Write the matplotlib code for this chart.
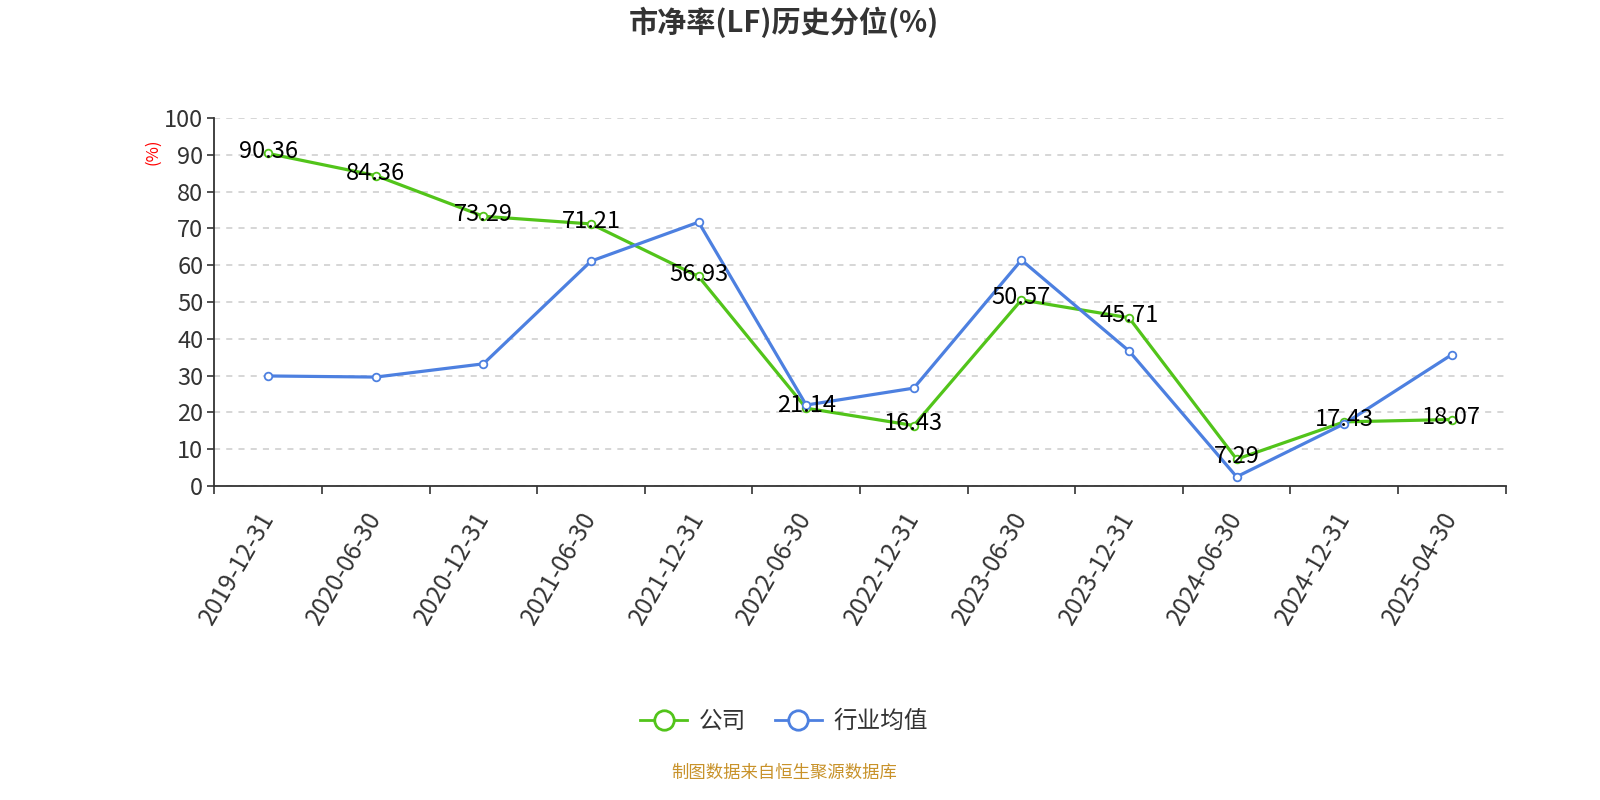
import matplotlib
matplotlib.use('Agg')
import matplotlib.pyplot as plt
from matplotlib.lines import Line2D

plt.rcParams['font.family'] = ['Noto Sans CJK SC', 'DejaVu Sans']

# Data
dates = ['2019-12-31', '2020-06-30', '2020-12-31', '2021-06-30', '2021-12-31', '2022-06-30',
         '2022-12-31', '2023-06-30', '2023-12-31', '2024-06-30', '2024-12-31', '2025-04-30']
company = [90.36, 84.36, 73.29, 71.21, 56.93, 21.14, 16.43, 50.57, 45.71, 7.29, 17.43, 18.07]
industry = [29.9, 29.6, 33.2, 61.1, 71.7, 22.0, 26.6, 61.4, 36.7, 2.5, 16.9, 35.7]

GREEN = '#52c41a'
BLUE = '#4d80e0'
TEXT = '#333333'

fig = plt.figure(figsize=(16, 8), dpi=100)
ax = fig.add_axes([0.134, 0.3925, 0.807, 0.46])

x = list(range(len(dates)))
ax.plot(x, company, '-o', color=GREEN, linewidth=2.3, markersize=5.5,
        markerfacecolor='white', markeredgecolor=GREEN, markeredgewidth=1.3, zorder=3)
ax.plot(x, industry, '-o', color=BLUE, linewidth=2.3, markersize=5.5,
        markerfacecolor='white', markeredgecolor=BLUE, markeredgewidth=1.3, zorder=4)

# data labels for company series
for i, v in enumerate(company):
    ax.text(i, v + 0.6, f'{v:.2f}', ha='center', va='center', fontsize=17, color='black', zorder=5)

ax.set_xlim(-0.5, len(dates) - 0.5)
ax.set_ylim(0, 100)
ax.set_yticks(range(0, 101, 10))
ax.tick_params(axis='y', labelsize=17, colors=TEXT, length=5, width=1.2, pad=3)

ax.set_xticks([i - 0.5 for i in range(len(dates) + 1)])
ax.set_xticklabels([])
ax.tick_params(axis='x', which='major', length=6, width=1.2, color=TEXT)
ax.set_xticks(x, minor=True)
ax.set_xticklabels(dates, minor=True, rotation=60, ha='right', va='center',
                   rotation_mode='anchor', fontsize=17.5, color=TEXT)
ax.tick_params(axis='x', which='minor', length=0, pad=20)

ax.grid(axis='y', linestyle=(0, (4, 4)), color='#cccccc', linewidth=1.1)
ax.set_axisbelow(True)
for s in ['top', 'right']:
    ax.spines[s].set_visible(False)
for s in ['left', 'bottom']:
    ax.spines[s].set_color(TEXT)
    ax.spines[s].set_linewidth(1.3)

ax.text(-0.048, 0.907, '(%)', transform=ax.transAxes, rotation=90, color='red',
        fontsize=12, ha='center', va='center')

fig.text(0.49, 0.972, '市净率(LF)历史分位(%)', ha='center', va='center',
         fontsize=21, fontweight='bold', color=TEXT)

handles = [
    Line2D([0], [0], color=GREEN, linewidth=2, marker='o', markersize=14,
           markerfacecolor='white', markeredgecolor=GREEN, markeredgewidth=2),
    Line2D([0], [0], color=BLUE, linewidth=2, marker='o', markersize=14,
           markerfacecolor='white', markeredgecolor=BLUE, markeredgewidth=2),
]
fig.legend(handles, ['公司', '行业均值'], loc='center', bbox_to_anchor=(0.49, 0.098),
           ncol=2, frameon=False, fontsize=17, labelcolor=TEXT, handlelength=2.0,
           columnspacing=1.2, handletextpad=0.5)

fig.text(0.49, 0.034, '制图数据来自恒生聚源数据库', ha='center', va='center',
         fontsize=12.5, color='#c8922a')

fig.savefig('out.png', dpi=100)
